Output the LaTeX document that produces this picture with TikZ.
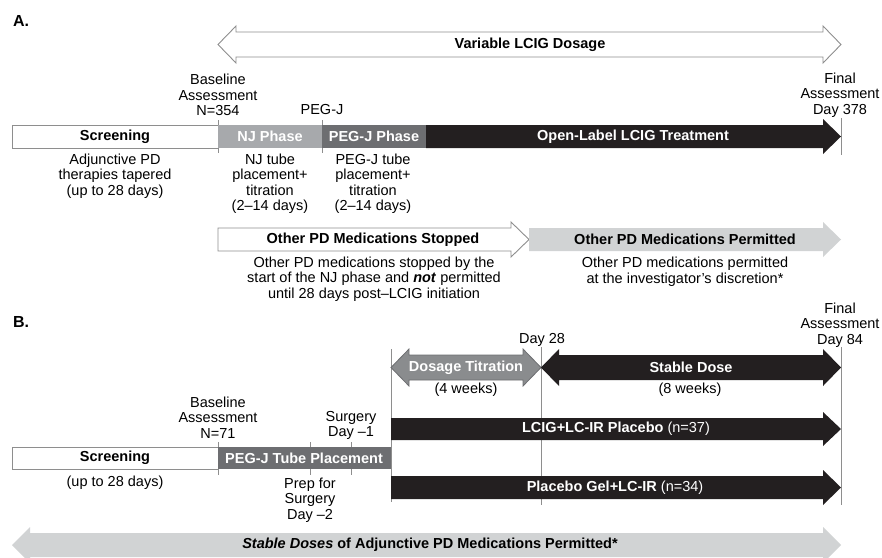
\documentclass[tikz,border=0pt]{standalone}
\usepackage{fontspec}
\setmainfont{Liberation Sans}
\usepackage{xcolor}
\usepackage{tikz}
\usetikzlibrary{positioning}

\definecolor{barblack}{HTML}{231F20}
\definecolor{darkgrey}{HTML}{6D6E71}
\definecolor{midgrey}{HTML}{8A8C8E}
\definecolor{lightgrey}{HTML}{A7A9AC}
\definecolor{palegrey}{HTML}{D1D3D4}
\definecolor{rulegrey}{HTML}{8E8E8E}

% #1 style, #2 left x, #3 tip x, #4 top y, #5 bottom y
\newcommand{\rarrow}[5]{%
  \pgfmathsetmacro{\ym}{(#4+#5)/2}%
  \draw[#1] (#2,#4) -- (#3-18,#4) -- (#3-18,#4-6) -- (#3,\ym)
    -- (#3-18,#5+6) -- (#3-18,#5) -- (#2,#5) -- cycle;}
\newcommand{\darrow}[5]{%
  \pgfmathsetmacro{\ym}{(#4+#5)/2}%
  \draw[#1] (#2,\ym) -- (#2+18,#4-6) -- (#2+18,#4) -- (#3-18,#4)
    -- (#3-18,#4-6) -- (#3,\ym) -- (#3-18,#5+6) -- (#3-18,#5)
    -- (#2+18,#5) -- (#2+18,#5+6) -- cycle;}

\begin{document}
\begin{tikzpicture}[x=1pt,y=-1pt,line join=miter,
    font=\fontsize{14.5}{15.5}\selectfont,
    hollow/.style={draw=rulegrey,fill=white,line width=0.9pt},
    tick/.style={draw=rulegrey,line width=0.9pt},
    note/.style={align=center,inner sep=0pt},
    bartxt/.style={font=\fontsize{14.5}{15.5}\selectfont\bfseries,inner sep=0pt},
    wtxt/.style={bartxt,text=white},
    paneltxt/.style={font=\fontsize{16}{18}\selectfont\bfseries,inner sep=0pt}]
  \useasboundingbox (0,0) rectangle (882,557);
  \clip (0,0) rectangle (882,557);

  % ---- panel A
  \node[paneltxt] (panelA) at (21,21) {A.};
  \darrow{hollow}{218}{841}{32}{57}
  \node[bartxt] (vardose) at (530,44.5) {Variable LCIG Dosage};

  \foreach \x in {218,322}
    \draw[tick] (\x,120) -- (\x,153);
  \draw[tick] (841,118) -- (841,155);

  \draw[hollow] (12,125) rectangle (218,148);
  \fill[lightgrey] (218,125) rectangle (322,148);
  \fill[darkgrey] (322,125) rectangle (426,148);
  \rarrow{fill=barblack,draw=none}{426}{841}{125}{148}
  \node[bartxt] (screenA) at (115,136.5) {Screening};
  \node[wtxt] (njphase) at (270,136.5) {NJ Phase};
  \node[wtxt] (pegphase) at (374,136.5) {PEG-J Phase};
  \node[wtxt] (openlabel) at (633,136.5) {Open-Label LCIG Treatment};

  \node[note] (baseA) at (218,95) {Baseline\\Assessment\\N=354};
  \node[note] (pegj) at (322,110) {PEG-J};
  \node[note] (finalA) at (840,95) {Final\\Assessment\\Day 378};

  \node[note] (taper) at (115,176) {Adjunctive PD\\therapies tapered\\(up to 28 days)};
  \node[note] (njnote) at (270,183.5) {NJ tube\\placement+\\titration\\(2\textendash14 days)};
  \node[note] (pegnote) at (373,183.5) {PEG-J tube\\placement+\\titration\\(2\textendash14 days)};

  \rarrow{hollow}{218}{529}{228}{251}
  \rarrow{fill=palegrey,draw=none}{529}{841}{228}{251}
  \node[bartxt] (stopped) at (373,239.5) {Other PD Medications Stopped};
  \node[bartxt] (permitted) at (685,239.5) {Other PD Medications Permitted};
  \node[note] (stopnote) at (374,279) {Other PD medications stopped by the\\
    start of the NJ phase and \textbf{\textit{not}} permitted\\
    until 28 days post\textendash LCIG initiation};
  \node[note] (permnote) at (685,271.5) {Other PD medications permitted\\
    at the investigator’s discretion*};

  % ---- panel B
  \node[paneltxt] (panelB) at (21,322) {B.};
  \node[note] (finalB) at (840,325) {Final\\Assessment\\Day 84};
  \node[note] (day28) at (542,340) {Day 28};

  \draw[tick] (391,349) -- (391,502);
  \draw[tick] (541,347) -- (541,505);
  \draw[tick] (841,347) -- (841,505);
  \foreach \x in {218,310,351}
    \draw[tick] (\x,442) -- (\x,475);

  \darrow{fill=midgrey,draw=darkgrey,line width=0.8pt}{391}{541}{355}{380}
  \darrow{fill=barblack,draw=none}{541}{841}{355}{380}
  \node[wtxt] (titration) at (466,367.5) {Dosage Titration};
  \node[wtxt] (stable) at (691,367.5) {Stable Dose};
  \node[note] (fourwk) at (466,390) {(4 weeks)};
  \node[note] (eightwk) at (690,390) {(8 weeks)};

  \rarrow{fill=barblack,draw=none}{391}{841}{418}{440}
  \node[note,text=white] (lcig) at (616,429) {\textbf{LCIG+LC-IR Placebo} (n=37)};

  \node[note] (baseB) at (218,417.5) {Baseline\\Assessment\\N=71};
  \node[note] (surgery) at (351,425.5) {Surgery\\Day \textendash1};

  \draw[hollow] (12,447) rectangle (218,469);
  \fill[darkgrey] (218,447) rectangle (391,469);
  \node[bartxt] (screenB) at (115,458) {Screening};
  \node[wtxt] (tubeplace) at (304,458) {PEG-J Tube Placement};
  \node[note] (uptoB) at (115,483) {(up to 28 days)};
  \node[note] (prep) at (310,500) {Prep for\\Surgery\\Day \textendash2};

  \rarrow{fill=barblack,draw=none}{391}{841}{476}{499}
  \node[note,text=white] (placebo) at (615,488) {\textbf{Placebo Gel+LC-IR} (n=34)};

  \darrow{fill=palegrey,draw=none}{12}{841}{533}{557}
  \node[bartxt] (adjunct) at (430,545) {\textit{Stable Doses} of Adjunctive PD Medications Permitted*};
\end{tikzpicture}
\end{document}
